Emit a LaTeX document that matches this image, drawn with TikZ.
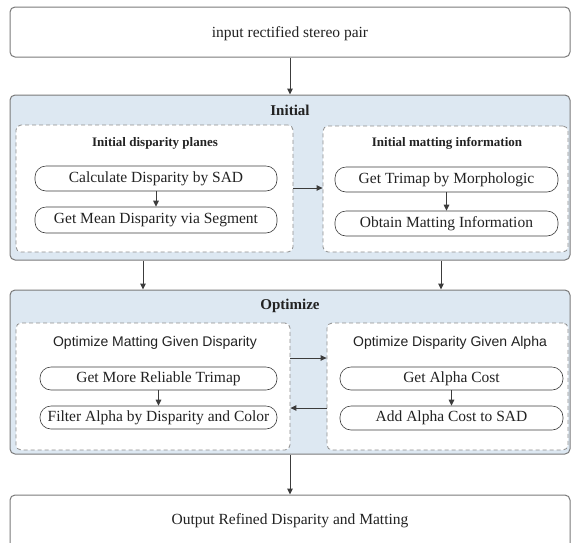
\documentclass[tikz,border=0pt]{standalone}
\usepackage{fontspec}
\setmainfont{Liberation Serif}
\newfontfamily\subsans{Liberation Sans}
\usetikzlibrary{arrows.meta}
\definecolor{panelblue}{HTML}{DDE8F2}
\definecolor{edgegray}{HTML}{7A7A7A}
\definecolor{dashgray}{HTML}{8E8E8E}
\definecolor{arrowgray}{HTML}{3C3C3C}
\definecolor{textgray}{HTML}{222222}
\tikzset{
  outerbox/.style={draw=edgegray, line width=1pt, rounded corners=5pt, fill=white, inner sep=0pt, minimum width=560pt},
  panel/.style={draw=edgegray, line width=1pt, rounded corners=5pt, fill=panelblue, inner sep=0pt, minimum width=560pt},
  groupbox/.style={draw=dashgray, dash pattern=on 4pt off 3pt, line width=0.8pt, rounded corners=5pt, fill=white, inner sep=0pt},
  pill/.style={draw=arrowgray, line width=0.6pt, rounded corners=11pt, fill=white, inner sep=0pt, text=textgray, font=\fontsize{15.5}{17}\selectfont},
  maintext/.style={text=textgray, font=\fontsize{15.5}{17}\selectfont},
  paneltitle/.style={text=textgray, font=\bfseries\fontsize{15}{17}\selectfont},
  grouptitle/.style={text=textgray, font=\bfseries\fontsize{13}{15}\selectfont},
  sanstitle/.style={text=textgray, font=\subsans\fontsize{14}{16}\selectfont},
  flow/.style={draw=arrowgray, line width=1pt, -{Triangle[length=6pt,width=5.5pt]}}
}
\begin{document}
\begin{tikzpicture}[x=1pt,y=-1pt]
\useasboundingbox (0,0) rectangle (571,542);
\clip (0,0) rectangle (571,542);
% top input
\node[outerbox, minimum height=50pt] (input) at (290,32) {};
\node[maintext] (inputtxt) at (290,34) {input rectified stereo pair};
% Initial panel
\node[panel, minimum height=165pt] (init) at (290,177.5) {};
\node[paneltitle] (inittitle) at (290,110) {Initial};
\node[groupbox, minimum width=277pt, minimum height=127pt] (il) at (154.5,188.5) {};
\node[groupbox, minimum width=245pt, minimum height=126pt] (ir) at (445.5,189) {};
\node[grouptitle] (iltitle) at (155,143) {Initial disparity planes};
\node[grouptitle] (irtitle) at (447,143) {Initial matting information};
\node[pill, minimum width=242pt, minimum height=25pt] (p1) at (156,178.5) {Calculate Disparity by SAD};
\node[pill, minimum width=242pt, minimum height=26pt] (p2) at (156,220) {Get Mean Disparity via Segment};
\node[pill, minimum width=223pt, minimum height=25pt] (p3) at (446.5,179.5) {Get Trimap by Morphologic};
\node[pill, minimum width=223pt, minimum height=25pt] (p4) at (446.5,223.5) {Obtain Matting Information};
% Optimize panel
\node[panel, minimum height=164pt] (opt) at (290,372) {};
\node[paneltitle] (opttitle) at (290,306) {Optimize};
\node[groupbox, minimum width=274pt, minimum height=127pt] (ol) at (153,386.5) {};
\node[groupbox, minimum width=241pt, minimum height=127pt] (or) at (447.5,386.5) {};
\node[sanstitle] (oltitle) at (155,343) {Optimize Matting Given Disparity};
\node[sanstitle] (ortitle) at (450,343) {Optimize Disparity Given Alpha};
\node[pill, minimum width=237pt, minimum height=23pt] (q1) at (158.5,378.5) {Get More Reliable Trimap};
\node[pill, minimum width=237pt, minimum height=23pt] (q2) at (158.5,417.5) {Filter Alpha by Disparity and Color};
\node[pill, minimum width=223pt, minimum height=23pt] (q3) at (451.5,378.5) {Get Alpha Cost};
\node[pill, minimum width=223pt, minimum height=24pt] (q4) at (451.5,418) {Add Alpha Cost to SAD};
% output
\node[outerbox, minimum height=75pt] (output) at (290,532.5) {};
\node[maintext] (outtxt) at (290,521) {Output Refined Disparity and Matting};
% connectors
\draw[flow] (input.south) -- (init.north);
\draw[flow] (p1) -- (p2);
\draw[flow] (p3) -- (p4);
\draw[flow] (il.east |- 0,188) -- (ir.west |- 0,188);
\draw[flow] (init.south -| 143,0) -- (opt.north -| 143,0);
\draw[flow] (init.south -| 441,0) -- (opt.north -| 441,0);
\draw[flow] (q1) -- (q2);
\draw[flow] (q3) -- (q4);
\draw[flow] (ol.east |- 0,358) -- (or.west |- 0,358);
\draw[flow] (or.west |- 0,408) -- (ol.east |- 0,408);
\draw[flow] (opt.south) -- (output.north);
\end{tikzpicture}
\end{document}
